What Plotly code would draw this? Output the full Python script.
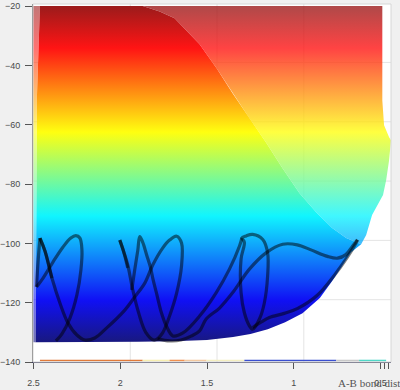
import plotly.graph_objects as go

# ---------------- data ----------------
bond_ticks = [2.5, 2, 1.5, 1, 0.5]
bond_tick_text = ["2.5", "2", "1.5", "1", "0.5"]
extra_bond_ticks = [0.48, 0.452]
energy_ticks = [-140, -120, -100, -80, -60, -40, -20]

surface_top = -20.0

# left edge of the lit surface (top -> bottom)
left_dist = [2.463, 2.480, 2.488]
left_energy = [-20.0, -50.0, -133.3]

# lower envelope of the surface (left -> right)
floor_dist = [2.488, 2.2, 1.9, 1.7, 1.5, 1.35, 1.25, 1.15, 1.05, 0.95, 0.85, 0.78, 0.72, 0.67, 0.612]
floor_energy = [-133.3, -133.3, -133.2, -133.0, -132.6, -131.6, -130.6, -129.0, -126.6, -123.6,
                -118.4, -112.8, -107.2, -103.0, -100.3]

# silhouette ridge separating front / back faces (top -> bottom)
ridge_dist = [1.871, 1.773, 1.687, 1.543, 1.445, 1.353, 1.256, 1.158, 1.066, 0.968, 0.871, 0.779, 0.698, 0.612]
ridge_energy = [-20.0, -21.8, -24.1, -32.9, -41.0, -49.4, -57.8, -66.2, -74.6, -83.0, -89.5, -94.8, -98.2, -100.3]

# right edge of the back face (top -> bottom)
edge_dist = [0.490, 0.490, 0.480, 0.451, 0.440, 0.451, 0.468, 0.486, 0.520, 0.549, 0.583, 0.612]
edge_energy = [-20.0, -51.8, -60.2, -64.2, -65.2, -72.0, -78.7, -83.7, -87.1, -90.4, -97.2, -100.3]

# trajectory strokes (None separates strokes)
traj_dist = [
    2.483, 2.474, 2.463, None,
    2.463, 2.434, 2.394, 2.348, 2.302, 2.250, 2.204, 2.147, 2.078, 1.974, 1.917, 1.859, 1.813,
    1.756, 1.716, 1.675, 1.647, 1.647, 1.675, 1.716, 1.756, 1.785, None,
    2.463, 2.434, 2.394, None,
    2.483, 2.445, 2.388, 2.331, 2.285, 2.256, 2.233, 2.221, 2.227, 2.250, 2.290, 2.336, 2.371, None,
    2.003, 1.980, 1.957, 1.928, 1.894, 1.854, 1.808, 1.785, None,
    2.003, 1.980, 1.957, None,
    1.934, 1.917, 1.899, 1.888, 1.871, 1.848, 1.825, 1.812, 1.792, 1.763, 1.735, 1.697, 1.639,
    1.543, 1.447, 1.371, 1.313, 1.299, None,
    1.299, 1.285, 1.304, 1.304, 1.285, 1.256, 1.237, 1.198, 1.170, 1.151, 1.151, 1.179, 1.237,
    1.275, 1.299, None,
    1.785, 1.716, 1.650, 1.589, 1.543, 1.505, 1.428, 1.352, 1.256, 1.160, 1.064, 0.980, 0.901,
    0.806, 0.748, 0.700, 0.662, 0.633, None,
    0.633, 0.643, 0.691, 0.767, 0.863, 0.980, 1.055, 1.141, 1.187, 1.237,
]
traj_energy = [
    -114.7, -106.3, -98.2, None,
    -98.2, -102.6, -111.7, -120.1, -126.8, -130.9, -132.6, -131.9, -128.5, -122.5, -118.1, -113.4, -107.3,
    -101.6, -98.9, -97.6, -99.9, -107.6, -116.7, -124.5, -130.2, -132.2, None,
    -98.2, -102.6, -111.7, None,
    -114.7, -111.7, -106.3, -101.3, -98.2, -97.4, -98.2, -102.3, -109.0, -117.4, -125.2, -130.5, -132.9, None,
    -98.9, -102.9, -107.3, -115.7, -123.5, -129.9, -132.6, -132.2, None,
    -98.9, -102.9, -108.3, None,
    -115.7, -109.0, -102.3, -97.7, -99.6, -103.9, -108.3, -112.0, -116.6, -123.4, -127.8, -131.2, -130.2,
    -124.5, -116.6, -108.7, -100.9, -98.2, None,
    -98.2, -99.6, -105.3, -116.6, -123.4, -127.8, -128.95, -125.5, -120.1, -111.0, -103.2, -98.7, -97.0,
    -97.5, -98.2, None,
    -132.2, -132.9, -132.6, -131.2, -129.5, -125.5, -121.8, -116.6, -108.7, -103.2, -100.3, -100.5, -102.2,
    -104.4, -105.0, -103.8, -101.0, -98.8, None,
    -98.8, -100.0, -104.6, -110.8, -117.4, -122.0, -123.6, -125.0, -126.5, -128.4,
]

# floor projection strip (segments along the bottom)
strip_start = [2.463, 1.871, 1.716, 1.629, 1.503, 1.285, 0.756, 0.624]
strip_end = [1.871, 1.716, 1.629, 1.503, 1.285, 0.756, 0.624, 0.468]
strip_energy = -139.5

# ---------------- styling ----------------
jet = [[0.0, "rgb(24,24,128)"], [0.125, "rgb(16,16,245)"], [0.375, "rgb(16,245,255)"],
       [0.625, "rgb(255,255,16)"], [0.875, "rgb(255,20,20)"], [1.0, "rgb(155,27,27)"]]
grad = dict(type="vertical", colorscale=jet, start=-133.3, stop=-20.0)
strip_colors = ["#e07a3a", "#f6eeb0", "#f09050", "#f2c8a0", "#f4eec0", "#3a4fd0", "#c8c8c8", "#50d8c8"]

fig = go.Figure()

# back face (lighter)
bx = ridge_dist + edge_dist[::-1]
by = ridge_energy + edge_energy[::-1]
fig.add_trace(go.Scatter(x=bx, y=by, fill="toself", fillgradient=grad, mode="lines",
                         line=dict(width=0), opacity=0.8, hoverinfo="skip", showlegend=False))
sx = [2.503, 2.503] + left_dist[::-1]
sy = [surface_top, floor_energy[0]] + left_energy[::-1]
fig.add_trace(go.Scatter(x=sx, y=sy, fill="toself", fillgradient=grad, mode="lines",
                         line=dict(width=0), opacity=0.6, hoverinfo="skip", showlegend=False))

# front face
fx = left_dist + floor_dist + ridge_dist[::-1]
fy = left_energy + floor_energy + ridge_energy[::-1]
fig.add_trace(go.Scatter(x=fx, y=fy, fill="toself", fillgradient=grad, mode="lines",
                         line=dict(width=0), hoverinfo="skip", showlegend=False))

# floor strip
for a, b, c in zip(strip_start, strip_end, strip_colors):
    fig.add_trace(go.Scatter(x=[a, b], y=[strip_energy, strip_energy], mode="lines",
                             line=dict(color=c, width=1.6), hoverinfo="skip", showlegend=False))

# trajectory strokes
seg_x, seg_y = [], []
for xv, yv in zip(traj_dist + [None], traj_energy + [None]):
    if xv is None:
        if seg_x:
            fig.add_trace(go.Scatter(x=seg_x, y=seg_y, mode="lines", line_shape="spline",
                                     line=dict(color="rgba(0,0,0,0.5)", width=3.2),
                                     hoverinfo="skip", showlegend=False))
        seg_x, seg_y = [], []
    else:
        seg_x.append(xv)
        seg_y.append(yv)

# faint back-plane grid (offset like the 3-D view)
shapes = []
for t in bond_ticks[1:4]:
    shapes.append(dict(type="line", xref="x", yref="paper", x0=t - 0.0575, x1=t - 0.0575, y0=0, y1=1,
                       line=dict(color="#e4e4e4", width=1), layer="below"))
for t in energy_ticks[1:-1]:
    shapes.append(dict(type="line", xref="paper", yref="y", x0=0, x1=1, y0=t + 1.0, y1=t + 1.0,
                       line=dict(color="#e4e4e4", width=1), layer="below"))
shapes.append(dict(type="rect", xref="paper", yref="paper", x0=0, x1=1, y0=0, y1=1,
                   line=dict(color="#d6d6d6", width=1), layer="above"))

fig.update_layout(
    width=400, height=390,
    margin=dict(l=33, r=9, t=4, b=28),
    paper_bgcolor="#f0f0f0", plot_bgcolor="white",
    shapes=shapes,
    font=dict(family="Liberation Sans, Arial, sans-serif", size=9, color="#4a4a4a"),
    xaxis=dict(range=[2.503, 0.44], tickvals=bond_ticks + extra_bond_ticks,
               ticktext=bond_tick_text + ["", ""], showgrid=False, zeroline=False,
               showline=True, linecolor="#3a3a5a", linewidth=1, ticks="outside", ticklen=6,
               tickcolor="#555", automargin=False, ticklabelstandoff=6,
               ticklabeloverflow="allow"),
    yaxis=dict(range=[-140, -19.3], tickvals=energy_ticks, showgrid=False, zeroline=False,
               showline=True, linecolor="#666", linewidth=1, ticks="outside", ticklen=7,
               tickcolor="#555", automargin=False, ticklabelstandoff=3,
               ticklabeloverflow="allow"),
    annotations=[dict(text="A-B bond dist", xref="paper", yref="paper", x=0.938, y=-0.06,
                      xanchor="center", yanchor="middle", showarrow=False,
                      font=dict(family="Liberation Serif, Times New Roman, serif", size=11, color="#555"))],
)

fig.write_html("out.html")
